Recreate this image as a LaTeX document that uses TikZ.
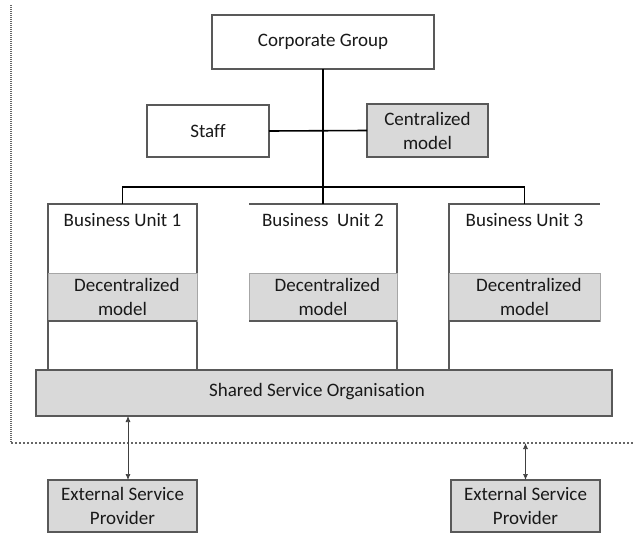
\documentclass[tikz,border=0pt]{standalone}
\usepackage{fontspec}
\setmainfont{Carlito}[Ligatures={NoCommon}]
\usetikzlibrary{arrows.meta}
\definecolor{boxgray}{HTML}{D9D9D9}
\definecolor{edgegray}{HTML}{595959}
\definecolor{lightedge}{HTML}{A6A6A6}
\definecolor{dotgray}{HTML}{666666}
\begin{document}
\begin{tikzpicture}[x=1pt,y=-1pt,
  font=\fontsize{19}{24}\selectfont,
  every node/.style={inner sep=0pt, outer sep=0pt, text=black!90},
  wbox/.style={draw=edgegray, line width=1.2pt, fill=white, align=center},
  gbox/.style={draw=edgegray, line width=1.2pt, fill=boxgray, align=center},
  decbox/.style={draw=lightedge, line width=0.6pt, fill=boxgray, align=center},
  unitbox/.style={minimum width=#1, minimum height=166pt},
  conn/.style={black, line width=1.6pt},
  unitline/.style={edgegray, line width=1.2pt},
  vdot/.style={dotgray, line width=1.2pt, dash pattern=on 1pt off 1pt},
  hdot/.style={dotgray, line width=1.2pt, dash pattern=on 1.5pt off 2.5pt},
  arr/.style={draw=black!75, line width=0.7pt, {Latex[length=6pt,width=5pt]}-{Latex[length=6pt,width=5pt]}}
]
\useasboundingbox (0,0) rectangle (635,533);

% dotted boundary
\coordinate (dtop) at (11,5);
\coordinate (dcorner) at (11,443);
\coordinate (dend) at (635,443);
\draw[vdot] (dtop) -- (dcorner);
\draw[hdot] (dcorner) -- (dend);

% top level
\node[wbox, minimum width=222pt, minimum height=54pt] (cg) at (323,42) {Corporate Group};
\node[wbox, minimum width=122pt, minimum height=52pt] (staff) at (208,131) {Staff};
\node[gbox, minimum width=121pt, minimum height=53pt] (cent) at (427.5,130.5) {Centralized\\model};

% business units (frames)
\node[unitbox=149pt] (bu1) at (122.5,287) {};
\node[unitbox=148pt] (bu2) at (323,287) {};
\node[unitbox=151pt] (bu3) at (524.5,287) {};

\draw[unitline] (bu1.south west) -- (bu1.north west) -- (bu1.north east) -- (bu1.south east);
\draw[unitline] (bu2.north west) -- (bu2.north east) -- (bu2.south east);
\draw[unitline] (bu3.south west) -- (bu3.north west) -- (bu3.north east);

\node[anchor=center] (bu1t) at ([yshift=-16pt]bu1.north) {Business Unit 1};
\node[anchor=center] (bu2t) at ([yshift=-16pt]bu2.north) {Business\ \ Unit 2};
\node[anchor=center] (bu3t) at ([yshift=-16pt]bu3.north) {Business Unit 3};

% decentralized boxes
\node[decbox, minimum width=149pt, minimum height=48pt] (dec1) at (122.5,297) {\ \ Decentralized\\model};
\node[decbox, minimum width=148pt, minimum height=48pt] (dec2) at (323,297) {\ \ Decentralized\\model};
\node[decbox, minimum width=151pt, minimum height=48pt] (dec3) at (524.5,297) {\ \ Decentralized\\model};
\draw[unitline] (dec1.south west) -- (dec1.south east);
\draw[unitline] (dec2.south west) -- (dec2.south east);
\draw[unitline] (dec3.south west) -- (dec3.south east);

% shared service organisation
\node[gbox, minimum width=576pt, minimum height=46pt] (sso) at (324,393) {};
\node (ssot) at (317,392) {Shared Service Organisation};

% external providers
\node[gbox, minimum width=149pt, minimum height=52pt] (esp1) at (122.5,506) {External Service\\Provider};
\node[gbox, minimum width=149pt, minimum height=52pt] (esp2) at (525.5,506) {External Service\\Provider};

% connectors
\draw[conn] (cg.south) -- (bu2.north);
\draw[conn] (staff.east) -- (cent.west);
\draw[conn] (bu1.north) -- ++(0,-17) -| (bu3.north);

\draw[arr] ([xshift=5.5pt]esp1.north) -- ([xshift=5.5pt]esp1.north |- sso.south);
\draw[arr] (esp2.north |- dend) -- (esp2.north);
\end{tikzpicture}
\end{document}
